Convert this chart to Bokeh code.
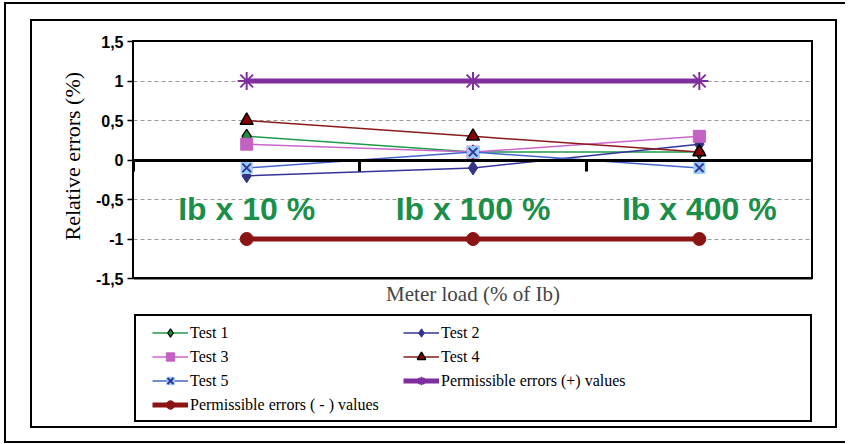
from bokeh.plotting import figure
from bokeh.layouts import column
from bokeh.models import (Range1d, LinearAxis, FixedTicker, Legend, LegendItem,
                          InlineStyleSheet, Title)
from bokeh.embed import file_html
from bokeh.resources import INLINE

# ---------------- data ----------------
categories = ["Ib x 10 %", "Ib x 100 %", "Ib x 400 %"]
test1 = [0.3, 0.1, 0.1]
test2 = [-0.2, -0.1, 0.2]
test3 = [0.2, 0.1, 0.3]
test4 = [0.5, 0.3, 0.1]
test5 = [-0.1, 0.1, -0.1]
perm_plus = [1, 1, 1]
perm_minus = [-1, -1, -1]
y_ticks = [-1.5, -1, -0.5, 0, 0.5, 1, 1.5]
y_tick_labels = ["-1,5", "-1", "-0,5", "0", "0,5", "1", "1,5"]
series_names = ["Test 1", "Test 2", "Test 3", "Test 4", "Test 5",
                "Permissible errors (+) values", "Permissible errors ( - ) values"]
x_title = "Meter load (% of Ib)"
y_title = "Relative errors (%)"

SERIF = "Liberation Serif"
SANS = "Liberation Sans"
GREEN_TXT = "#1b8f4a"

# category slots: category i occupies [i, i+1], its centre at i + 0.5
n = len(categories)
xc = [i + 0.5 for i in range(n)]
bounds = list(range(n + 1))
y_min, y_max = y_ticks[0], y_ticks[-1]

# layout (pixels): plot area 41..278 px tall, legend area below it inside the same frame
W, H = 845, 440
FRAME_TOP, AXIS_BOTTOM, FRAME_BOTTOM = 41, 278, 421
px_per_unit = (AXIS_BOTTOM - FRAME_TOP) / (y_max - y_min)
y_low = y_min - (FRAME_BOTTOM - AXIS_BOTTOM) / px_per_unit

p = figure(width=W, height=H, x_range=Range1d(0, n),
           y_range=Range1d(y_low, y_max), output_backend="svg", toolbar_location=None,
           min_border_left=133, min_border_right=W - 812, min_border_top=FRAME_TOP,
           min_border_bottom=H - FRAME_BOTTOM, background_fill_color="white",
           border_fill_color="white")
p.outline_line_color = None

# y axis
ya = p.yaxis[0]
ya.ticker = FixedTicker(ticks=y_ticks)
ya.major_label_overrides = {t: l for t, l in zip(y_ticks, y_tick_labels)}
ya.major_label_text_font = SANS
ya.major_label_text_font_style = "bold"
ya.major_label_text_font_size = "16px"
ya.major_label_text_color = "black"
ya.major_label_standoff = 4
ya.major_tick_out = 6
ya.major_tick_in = 0
ya.major_tick_line_width = 1.5
ya.minor_tick_line_color = None
ya.axis_line_color = None

# y title placed beside the -1.5..1.5 part of the axis
p.add_layout(Title(text=y_title, align="left", offset=FRAME_BOTTOM - 240,
                   vertical_align="middle", text_font=SERIF, text_font_style="normal",
                   text_font_size="22px", text_color="black", standoff=14), "left")

# grid
p.xgrid.visible = False
p.ygrid.ticker = FixedTicker(ticks=y_ticks)
p.ygrid.grid_line_color = "#999999"
p.ygrid.grid_line_dash = "4 3"
p.ygrid.grid_line_width = 1

# x title under the -1.5 line
xa = p.xaxis[0]
xa.fixed_location = y_min
xa.ticker = FixedTicker(ticks=[])
xa.axis_line_color = "black"
xa.axis_line_width = 2
xa.major_tick_line_color = None
xa.minor_tick_line_color = None
xa.major_label_standoff = 0
xa.axis_label = x_title
xa.axis_label_text_font = SERIF
xa.axis_label_text_font_style = "normal"
xa.axis_label_text_font_size = "21px"
xa.axis_label_standoff = 3

# category labels drawn under the zero line
cat_axis = LinearAxis(fixed_location=0, ticker=FixedTicker(ticks=xc))
cat_axis.major_label_overrides = {x: c for x, c in zip(xc, categories)}
cat_axis.axis_line_color = None
cat_axis.major_tick_line_color = None
cat_axis.minor_tick_line_color = None
cat_axis.major_label_text_font = SANS
cat_axis.major_label_text_font_style = "bold"
cat_axis.major_label_text_font_size = "32px"
cat_axis.major_label_text_color = GREEN_TXT
cat_axis.major_label_standoff = 25
p.add_layout(cat_axis, "below")

# zero line with category boundary ticks
bnd_axis = LinearAxis(fixed_location=0, ticker=FixedTicker(ticks=bounds))
bnd_axis.major_label_overrides = {b: "" for b in bounds}
bnd_axis.axis_line_width = 3
bnd_axis.axis_line_color = "black"
bnd_axis.major_tick_line_width = 3
bnd_axis.major_tick_out = 11
bnd_axis.major_tick_in = 0
bnd_axis.minor_tick_line_color = None
bnd_axis.major_label_standoff = 0
p.add_layout(bnd_axis, "below")

# ---------------- series ----------------
items = []

l1 = p.line(xc, test1, line_color="#1f9a4a", line_width=1.5)
s1 = p.scatter(xc, test1, marker="diamond", size=14, fill_color="#1a8c3c",
               line_color="black", line_width=1.2)
items.append(LegendItem(label=series_names[0], renderers=[l1, s1]))

l2 = p.line(xc, test2, line_color="#333399", line_width=1.5)
s2 = p.scatter(xc, test2, marker="diamond", size=14, fill_color="#333388",
               line_color="#333388", line_width=1)
items.append(LegendItem(label=series_names[1], renderers=[l2, s2]))

l3 = p.line(xc, test3, line_color="#cc66cc", line_width=1.5)
s3 = p.scatter(xc, test3, marker="square", size=12, fill_color="#c462c4",
               line_color="#c462c4", line_width=1)
items.append(LegendItem(label=series_names[2], renderers=[l3, s3]))

l4 = p.line(xc, test4, line_color="#8b1a1a", line_width=1.5)
s4 = p.scatter(xc, test4, marker="triangle", size=13, fill_color="#8b0000",
               line_color="black", line_width=1.5)
items.append(LegendItem(label=series_names[3], renderers=[l4, s4]))

l5 = p.line(xc, test5, line_color="#4466cc", line_width=1.5)
s5a = p.scatter(xc, test5, marker="square", size=12, fill_color="#99ccff",
                line_color=None)
s5b = p.scatter(xc, test5, marker="x", size=12, line_color="#333399",
                line_width=2)
items.append(LegendItem(label=series_names[4], renderers=[l5, s5a, s5b]))

l6 = p.line(xc, perm_plus, line_color="#7f2f9d", line_width=5)
s6 = p.scatter(xc, perm_plus, marker="asterisk", size=18, line_color="#7f2f9d",
               line_width=2)
items.append(LegendItem(label=series_names[5], renderers=[l6, s6]))

l7 = p.line(xc, perm_minus, line_color="#8b1414", line_width=5)
s7 = p.scatter(xc, perm_minus, marker="circle", size=13, fill_color="#8b1414",
               line_color="#8b1414")
items.append(LegendItem(label=series_names[6], renderers=[l7, s7]))

legend = Legend(items=items, location=(19, 6), orientation="horizontal", ncols=2,
                border_line_color=None, background_fill_alpha=0, padding=0, margin=0,
                spacing=3, glyph_width=36, glyph_height=21, label_height=21,
                label_width=210, label_standoff=2, label_text_font=SERIF,
                label_text_font_size="16px", label_text_color="black")
p.add_layout(legend, "center")

# ---------------- decorative frames (CSS) ----------------
fig_css = InlineStyleSheet(css="""
:host::before {
  content: ""; position: absolute; box-sizing: border-box;
  left: 132px; top: 40px; width: 681px; height: 239px;
  border: 2px solid black; z-index: 50; pointer-events: none;
}
:host::after {
  content: ""; position: absolute; box-sizing: border-box;
  left: 134px; top: 314px; width: 678px; height: 108px;
  border: 2px solid black; z-index: 50; pointer-events: none;
}
""")
p.stylesheets = [fig_css]

wrap_css = InlineStyleSheet(css="""
:host::before {
  content: ""; position: absolute; box-sizing: border-box;
  left: 4px; top: 2px; width: 841px; height: 441px;
  border: 2px solid black; border-right: none; z-index: 60; pointer-events: none;
}
:host::after {
  content: ""; position: absolute; box-sizing: border-box;
  left: 30px; top: 19px; width: 807px; height: 409px;
  border: 2px solid black; z-index: 60; pointer-events: none;
}
""")
layout = column(p, stylesheets=[wrap_css])

open("out.html", "w").write(file_html(layout, INLINE))
